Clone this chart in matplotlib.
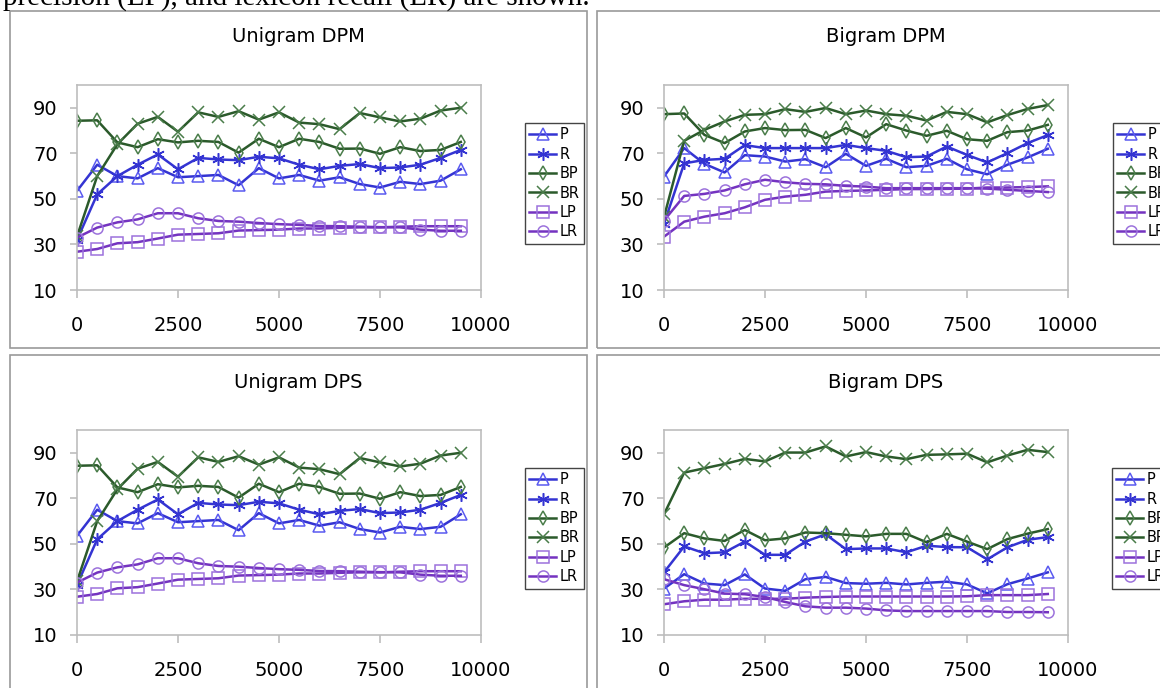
import matplotlib

matplotlib.use("Agg")
import matplotlib.pyplot as plt
from matplotlib.patches import Rectangle

W, H = 1160, 688

# training sizes on the x axis
STEPS = [0, 500, 1000, 1500, 2000, 2500, 3000, 3500, 4000, 4500,
         5000, 5500, 6000, 6500, 7000, 7500, 8000, 8500, 9000, 9500]
SERIES_NAMES = ["P", "R", "BP", "BR", "LP", "LR"]
PANEL_TITLES = ["Unigram DPM", "Bigram DPM", "Unigram DPS", "Bigram DPS"]
X_TICKS = [0, 2500, 5000, 7500, 10000]
Y_TICKS = [10, 30, 50, 70, 90]
CAPTION = "precision (LP), and lexicon recall (LR) are shown."

uni_dpm_p = [53.5, 65, 60, 59, 63.5, 59.5, 60, 60.5, 56, 63.5, 59, 60.5, 58, 59.5, 56.5, 55, 57.5, 56.5, 58, 63]
uni_dpm_r = [32, 52, 60, 65, 69.5, 63, 68, 67.3, 67, 68.5, 67.8, 65, 63, 64.5, 65.3, 63.5, 63.8, 65, 68, 71.5]
uni_dpm_bp = [84.3, 84.5, 74.8, 72.7, 76.2, 74.8, 75.5, 75, 70.3, 76.4, 72.7, 76.4, 75, 72, 72.1, 69.8, 72.7, 71, 71.5, 75]
uni_dpm_br = [33.5, 60, 74, 83, 86, 79.5, 88, 86, 88.5, 84.8, 88, 83.5, 82.8, 80.6, 87.7, 85.8, 84, 85.2, 88.8, 90]
uni_dpm_lp = [26.8, 28, 30.5, 31, 32.6, 34.3, 34.6, 34.9, 36.1, 36.3, 36.5, 37, 37, 37.3, 37.5, 37.5, 37.8, 38, 38, 38]
uni_dpm_lr = [33, 37.4, 39.7, 41, 43.7, 43.7, 41.5, 40.3, 40, 39.4, 38.9, 38.6, 38.1, 38, 37.8, 37.6, 37.5, 36.5, 36, 36]

bi_dpm_p = [59.8, 72.3, 65.4, 61.6, 69.2, 68.6, 66.4, 67.4, 63.9, 69.8, 64.5, 67.6, 63.9, 64.5, 67.6, 63, 60.8, 65, 68.2, 72]
bi_dpm_r = [39, 65.6, 67.1, 67.6, 73.6, 72.3, 72.3, 72.3, 72.3, 73.7, 72.3, 71.1, 68.3, 68.6, 73, 69.3, 66, 70.1, 74.5, 78]
bi_dpm_bp = [87.2, 87.5, 78.1, 74.5, 79.6, 81.1, 80.2, 80.3, 76.7, 81.1, 77, 82.8, 80, 77.7, 79.9, 76.2, 75.5, 79.3, 80, 82.5]
bi_dpm_br = [42, 75.5, 80.3, 84, 86.9, 87.2, 89.4, 88.2, 89.9, 87.2, 88.8, 87.2, 86.5, 84.4, 88.2, 87.2, 83.6, 86.8, 89.5, 91.2]
bi_dpm_lp = [33.4, 40, 42.2, 43.7, 46.3, 49.6, 51, 51.8, 53.2, 53.5, 53.7, 54, 54.3, 54.3, 54.4, 54.5, 55, 55, 55.2, 55.5]
bi_dpm_lr = [40.5, 51.3, 52.2, 53.7, 56.4, 58.4, 57.3, 56.6, 56.4, 55.7, 55.4, 54.7, 54.7, 54.7, 54.7, 54.7, 54.5, 54, 53.5, 53]

uni_dps_p = [53.5, 65, 60, 59, 63.5, 59.5, 60, 60.5, 56, 63.5, 59, 60.5, 58, 59.5, 56.5, 55, 57.5, 56.5, 57.5, 63]
uni_dps_r = [32, 52, 60, 65, 69.5, 63, 68, 67.3, 67, 68.5, 67.8, 65, 63, 64.5, 65.3, 63.5, 63.8, 65, 68, 71.5]
uni_dps_bp = [84.3, 84.5, 74.8, 72.7, 76.2, 74.8, 75.5, 75, 70.3, 76.4, 72.7, 76.4, 75, 72, 72.1, 69.8, 72.7, 71, 71.5, 75]
uni_dps_br = [33.5, 60, 74, 83, 86, 79.5, 88, 86, 88.5, 84.8, 88, 83.5, 82.8, 80.6, 87.7, 85.8, 84, 85.2, 88.8, 90]
uni_dps_lp = [26.8, 28, 30.5, 31, 32.6, 34.3, 34.6, 34.9, 36.1, 36.3, 36.5, 37, 37, 37.3, 37.5, 37.5, 37.8, 38, 38, 38]
uni_dps_lr = [33, 37.4, 39.7, 41, 43.7, 43.7, 41.5, 40.3, 40, 39.4, 38.9, 38.6, 38.1, 38, 37.8, 37.6, 37.5, 36.5, 36, 36]

bi_dps_p = [30.4, 36.7, 32.6, 31.9, 36.6, 30.4, 29.4, 34.5, 35.5, 32.8, 32.5, 32.9, 32.2, 32.9, 33.4, 32.2, 28.3, 32.3, 34.8, 37.5]
bi_dps_r = [37.5, 48.9, 45.9, 46.3, 51, 45.2, 45.2, 51, 54.2, 47.7, 48, 48, 46.3, 49.2, 48.6, 48.5, 43.2, 48.5, 51.8, 53]
bi_dps_bp = [48.4, 54.7, 52.4, 51.3, 56.1, 51.6, 52.4, 55, 54.7, 54, 53.3, 54.4, 54.4, 50.7, 54.4, 51, 47.7, 52.1, 54.5, 56.5]
bi_dps_br = [63, 81.3, 83.2, 85.1, 87.3, 86.2, 90.1, 90.1, 92.8, 88.4, 90.3, 88.4, 87.2, 89.1, 89.3, 89.6, 85.8, 88.8, 91.3, 90.3]
bi_dps_lp = [23.5, 24.8, 25.5, 25.5, 25.9, 25.9, 25.9, 26.4, 26.7, 26.9, 26.9, 26.9, 26.9, 26.9, 26.9, 27, 27.5, 27.5, 27.5, 28]
bi_dps_lr = [34.5, 31.9, 30.1, 28.2, 27.9, 26.7, 24.5, 22.6, 22, 22, 21.6, 20.8, 20.5, 20.5, 20.5, 20.5, 20.5, 20.1, 20.1, 20]

BLUE, BLUE_MK = "#3434d2", "#5a5af0"
GREEN, GREEN_MK = "#2b5a2b", "#4a7d4a"
PURPLE, PURPLE_MK = "#7433c0", "#9c72dc"

# line colour, marker colour, marker, marker size
STYLES = {
    "P": (BLUE, BLUE_MK, "^", 8),
    "R": (BLUE, BLUE, (6, 2, 0), 9),
    "BP": (GREEN, GREEN_MK, "d", 7),
    "BR": (GREEN, GREEN_MK, "x", 8),
    "LP": (PURPLE, PURPLE_MK, "s", 8),
    "LR": (PURPLE, PURPLE_MK, "o", 8),
}


def fig_box(left, top, right, bottom):
    # pixel box (from top-left) -> figure fraction rect
    return [left / W, 1 - bottom / H, (right - left) / W, (bottom - top) / H]


def draw_panel(fig, frame, plot, legend_xy, values):
    x0, y0, w, h = fig_box(*frame)
    fig.add_artist(Rectangle((x0, y0), w, h, transform=fig.transFigure,
                             fill=False, edgecolor="#9a9a9a", linewidth=1.2))

    ax = fig.add_axes(fig_box(*plot))
    for name, ys in zip(SERIES_NAMES, values):
        line_color, mk_color, marker, size = STYLES[name]
        ax.plot(STEPS, ys, color=line_color, linewidth=1.8, marker=marker,
                markersize=size, markerfacecolor="none", markeredgecolor=mk_color,
                markeredgewidth=1.1, label=name)

    ax.set_xlim(0, 10000)
    ax.set_ylim(10, 100)
    ax.set_xticks(X_TICKS)
    ax.set_yticks(Y_TICKS)
    for spine in ax.spines.values():
        spine.set_color("#bdbdbd")
        spine.set_linewidth(1.2)
    ax.tick_params(axis="both", colors="#bdbdbd", labelcolor="black", labelsize=14, width=1.2)
    ax.tick_params(axis="y", length=5, pad=9)
    ax.tick_params(axis="x", length=6, pad=13)

    # legend sits outside the plot area; on the right-hand panels it runs off the page
    ax.legend(loc="upper left", bbox_to_anchor=(legend_xy[0] / W, 1 - legend_xy[1] / H),
              bbox_transform=fig.transFigure, fontsize=10.5, frameon=True, fancybox=False,
              edgecolor="#444444", framealpha=1, borderpad=0.3, labelspacing=0.3,
              handlelength=1.8, handletextpad=0.25, borderaxespad=0)
    ax.get_legend().get_frame().set_linewidth(1.0)
    return ax


def main():
    fig = plt.figure(figsize=(W / 100, H / 100), dpi=100)
    fig.patch.set_facecolor("white")

    # only the bottom of the caption line above the figure is visible
    fig.text(3 / W, 1 - 4.5 / H, CAPTION, fontsize=21, family="Liberation Serif",
             ha="left", va="baseline")

    panels = [
        ((10, 11, 587, 348), (77, 85, 481, 290), (525, 123), 37,
         [uni_dpm_p, uni_dpm_r, uni_dpm_bp, uni_dpm_br, uni_dpm_lp, uni_dpm_lr]),
        ((597, 11, 1175, 348), (664, 85, 1068, 290), (1113, 123), 37,
         [bi_dpm_p, bi_dpm_r, bi_dpm_bp, bi_dpm_br, bi_dpm_lp, bi_dpm_lr]),
        ((10, 355, 587, 700), (77, 430, 481, 635), (525, 468), 382,
         [uni_dps_p, uni_dps_r, uni_dps_bp, uni_dps_br, uni_dps_lp, uni_dps_lr]),
        ((597, 355, 1175, 700), (664, 430, 1068, 635), (1112, 468), 382,
         [bi_dps_p, bi_dps_r, bi_dps_bp, bi_dps_br, bi_dps_lp, bi_dps_lr]),
    ]
    for title, (frame, plot, legend_xy, title_y, values) in zip(PANEL_TITLES, panels):
        draw_panel(fig, frame, plot, legend_xy, values)
        fig.text((frame[0] + frame[2]) / 2 / W, 1 - title_y / H, title,
                 ha="center", va="center", fontsize=14)

    fig.savefig("out.png", dpi=100)
    plt.close(fig)


if __name__ == "__main__":
    main()
